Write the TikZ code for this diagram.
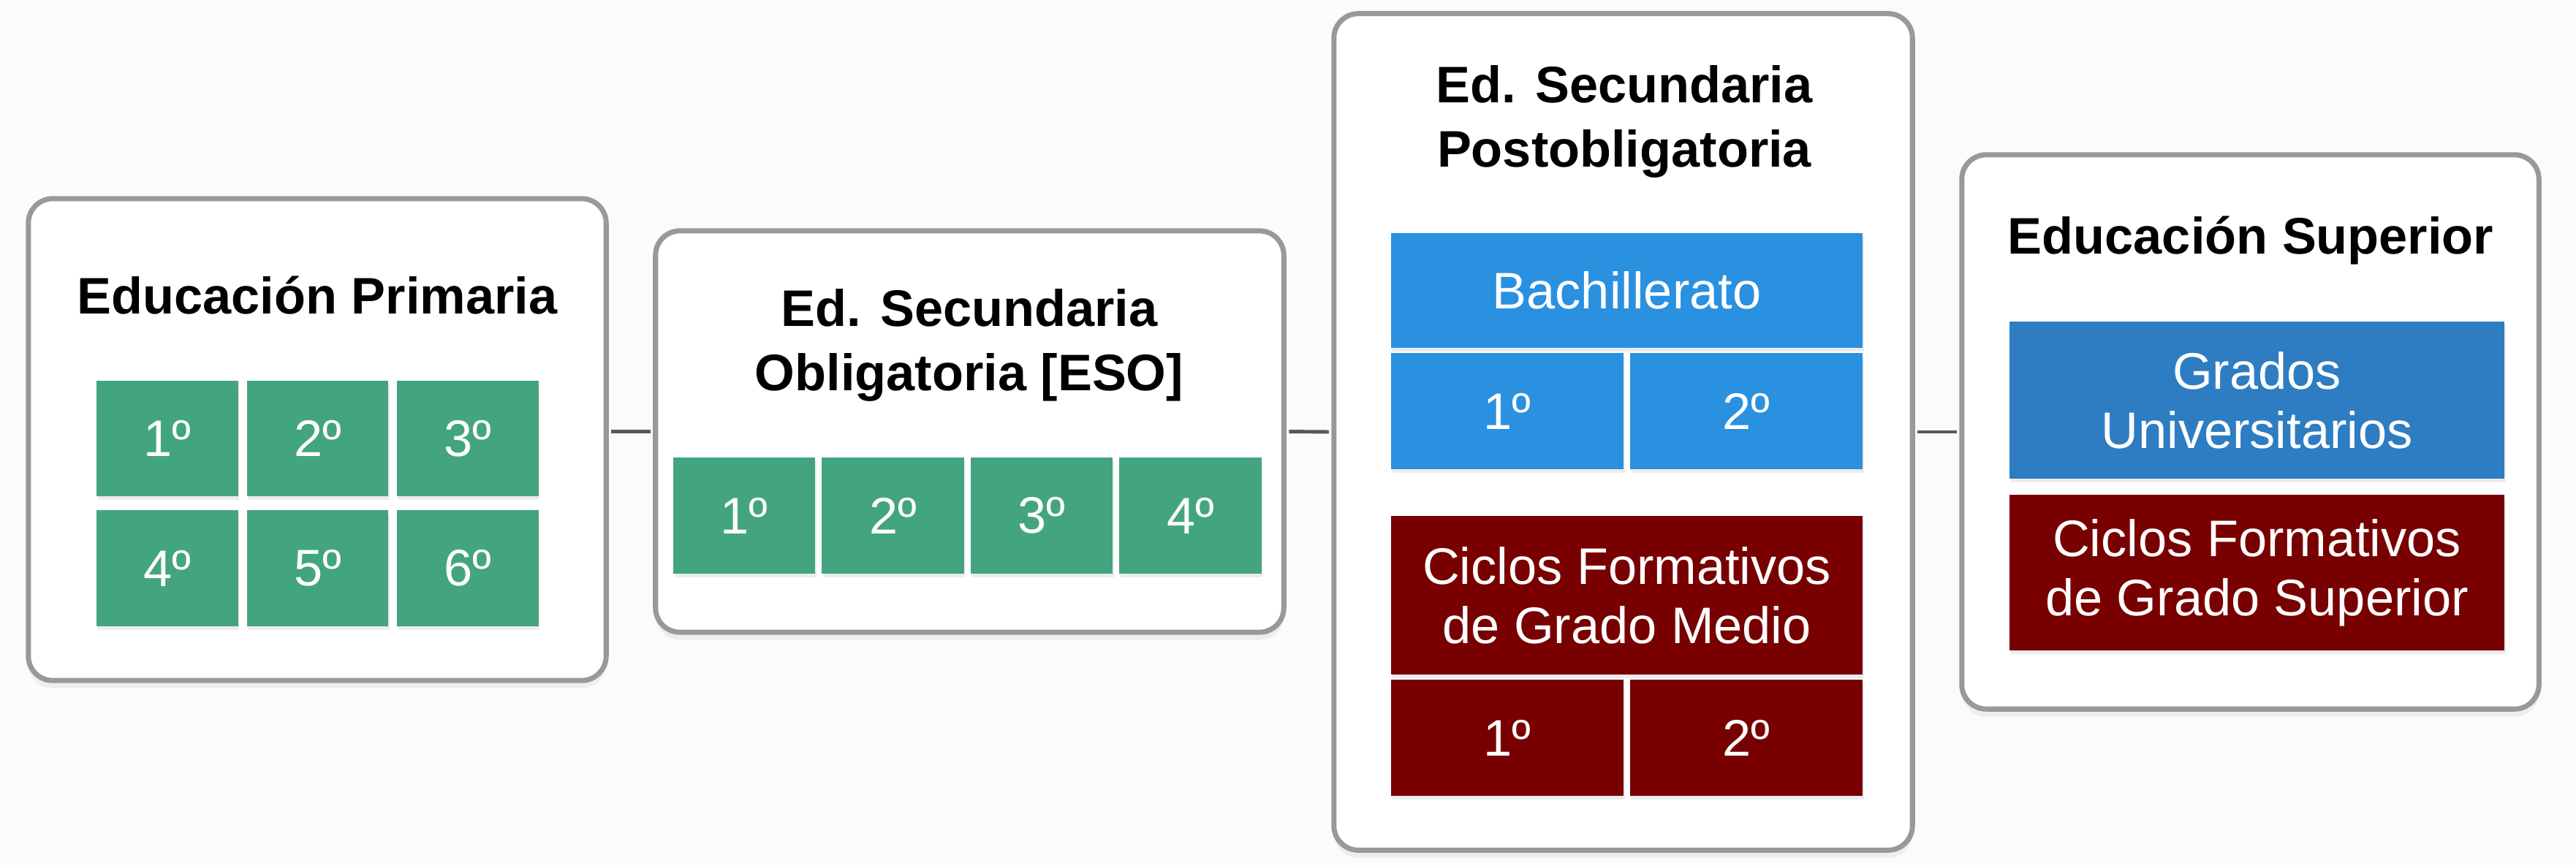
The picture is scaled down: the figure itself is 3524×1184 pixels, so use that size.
\documentclass[tikz,border=0pt]{standalone}
\usepackage{fontspec}
\setmainfont{Liberation Sans}
\usetikzlibrary{shadows}
\definecolor{bggray}{HTML}{FBFBFB}
\definecolor{tilegreen}{HTML}{43A57F}
\definecolor{bachblue}{HTML}{2A90E0}
\definecolor{unibue}{HTML}{2E7DC3}
\definecolor{cfred}{HTML}{780000}

\begin{document}
\begin{tikzpicture}[x=0.01cm,y=-0.01cm,
	stage/.style={draw=black!40,line width=2pt,fill=white,rounded corners=9.5pt,drop shadow={shadow xshift=0pt,shadow yshift=-3pt,opacity=0.10}},
	title/.style={font=\fontsize{20}{25}\selectfont\bfseries,align=center,inner sep=0pt},
	tile/.style={fill=tilegreen,text=white,font=\fontsize{20}{23}\selectfont,align=center,inner sep=0pt,minimum width=1.93cm,minimum height=1.58cm,drop shadow={shadow xshift=0.5pt,shadow yshift=-1.5pt,opacity=0.15}},
	link/.style={draw=black!65,line width=1.4pt,shorten <=1pt,shorten >=1pt}]
		\useasboundingbox (0,0) rectangle (3524,1184);
		\fill[bggray] (0,0) rectangle (3524,1184);

		\node[stage,minimum width=7.9cm,minimum height=6.59cm] (prim) at (434,601.5) {};
		\node[stage,minimum width=8.59cm,minimum height=5.49cm] (eso) at (1326.5,590.5) {};
		\node[stage,minimum width=7.91cm,minimum height=11.44cm] (post) at (2220.5,591) {};
		\node[stage,minimum width=7.89cm,minimum height=7.58cm] (sup) at (3078.5,591) {};

		\draw[link] (prim.east |- eso.west) -- (eso.west);
		\draw[link] (eso.east) -- (post.west);
		\draw[link] (post.east) -- (sup.west);

		\node[title,anchor=base] (primT) at (434,429) {Educación Primaria};
		\node[title,anchor=north] (esoT) at (1326,395) {Ed. Secundaria\\Obligatoria [ESO]};
		\node[title,anchor=north] (postT) at (2222,89) {Ed. Secundaria\\Postobligatoria};
		\node[title,anchor=base] (supT) at (3079,347) {Educación Superior};

		%Primaria courses
		\foreach \n in {1,...,6} {
			\pgfmathsetmacro\cx{229+205.5*mod(\n-1,3)}
			\pgfmathsetmacro\cy{600+177.5*int((\n-1)/3)}
			\node[tile] (prim\n) at (\cx,\cy) {{\n}º};
		}

		%ESO courses
		\foreach \n in {1,...,4}
			\node[tile,minimum width=1.94cm,minimum height=1.59cm] (eso\n) at (1018+203.5*\n-203.5,705.5) {{\n}º};

		%Bachillerato
		\node[tile,fill=bachblue,minimum width=6.45cm,minimum height=1.57cm] (bach) at (2225.5,397.5) {Bachillerato};
		\node[tile,fill=bachblue,minimum width=3.18cm,minimum height=1.59cm] (bach1) at (2062,562.5) {1º};
		\node[tile,fill=bachblue,minimum width=3.18cm,minimum height=1.59cm] (bach2) at (2389,562.5) {2º};

		%Grado Medio
		\node[tile,fill=cfred,minimum width=6.45cm,minimum height=2.17cm] (cfgm) at (2225.5,814.5) {Ciclos Formativos\\de Grado Medio};
		\node[tile,fill=cfred,minimum width=3.18cm,minimum height=1.59cm] (cfgm1) at (2062,1009.5) {1º};
		\node[tile,fill=cfred,minimum width=3.18cm,minimum height=1.59cm] (cfgm2) at (2389,1009.5) {2º};

		%Superior
		\node[tile,fill=unibue,minimum width=6.77cm,minimum height=2.15cm] (grado) at (3087.5,547.5) {Grados\\Universitarios};
		\node[tile,fill=cfred,minimum width=6.77cm,minimum height=2.13cm] (cfgs) at (3087.5,783.5) {Ciclos Formativos\\de Grado Superior};

	\end{tikzpicture}
\end{document}
